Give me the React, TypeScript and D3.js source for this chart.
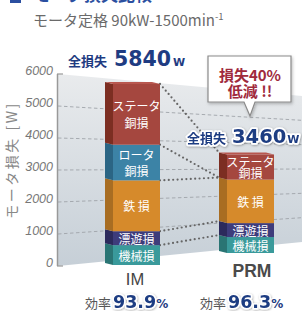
import React from 'react';
import * as d3 from 'd3';

// ---- data ----
const categories = ['IM', 'PRM'];
const lossNames = ['機械損', '漂遊損', '鉄 損', 'ロータ\n銅損', 'ステータ\n銅損'];
const imLoss = [640, 450, 1640, 1150, 1960];
const prmLoss = [560, 490, 1530, 0, 880];
const totalLoss = [5840, 3460];
const efficiency = ['93.9', '96.3'];
const yTicks = [0, 1000, 2000, 3000, 4000, 5000, 6000];
const gridTicks = [1000, 2000, 3000, 4000, 5000];
const calloutLines = ['損失40%', '低減 !!'];

const JP = '"Noto Sans CJK JP", sans-serif';
const NUM = '"DejaVu Sans", sans-serif';
const LAT = '"Liberation Sans", Arial, sans-serif';
const NAVY = '#1f3c82';

const frontColors = ['#3a9a9b', '#3e3c7b', '#d68a2b', '#3c83a6', '#a5473f'];
const sideColors = ['#2a7574', '#2c2a5c', '#a86d22', '#2b6584', '#7c2e22'];

// near edge (axis) and far edge of the back panel
const yAxis = d3.scaleLinear().domain([0, 6000]).range([266, 74]);
const yFar = d3.scaleLinear().domain([0, 6000]).range([242, 96]);
const xNear = 58;
const xFar = 302;

// each bar stands at its own depth
const barLeft = d3.scaleOrdinal<string, number>().domain(categories).range([113, 227]);
const barScales = [
    d3.scaleLinear().domain([0, 6000]).range([265, 79]),
    d3.scaleLinear().domain([0, 6000]).range([253, 82.2]),
];
const BW = 47;
const DX = 8;
const DY = 2;

const table = categories.map((c, i) => {
    const vals = i === 0 ? imLoss : prmLoss;
    const row: any = { cat: c };
    lossNames.forEach((n, j) => (row[n] = vals[j]));
    return row;
});
const stacked = d3.stack().keys(lossNames)(table);

export default function App() {
    const segs: any[] = [];
    const labels: any[] = [];
    categories.forEach((c, i) => {
        const ys = barScales[i];
        const x0 = barLeft(c);
        stacked.forEach((s, j) => {
            const [v0, v1] = s[i];
            if (v1 - v0 <= 0) return;
            const yt = ys(v1);
            const yb = ys(v0);
            segs.push(
                <g key={c + j}>
                    <polygon
                        points={`${x0},${yt} ${x0},${yb} ${x0 - DX},${yb - DY} ${x0 - DX},${yt - DY}`}
                        fill={sideColors[j]}
                    />
                    <rect x={x0} y={yt} width={BW} height={yb - yt} fill={frontColors[j]} />
                </g>
            );
            const lines = lossNames[j].split('\n');
            const cy = (yt + yb) / 2;
            const ls = Math.min(17, (yb - yt) * 0.45);
            lines.forEach((ln, k) => {
                labels.push(
                    <text
                        key={c + j + '-' + k}
                        x={x0 + BW / 2}
                        y={cy + (k - (lines.length - 1) / 2) * ls}
                        textAnchor="middle"
                        dominantBaseline="central"
                        fontFamily={JP}
                        fontSize={12}
                        fill="#fff"
                    >
                        {ln}
                    </text>
                );
            });
        });
        const top = ys(totalLoss[i]);
        segs.push(
            <polygon
                key={c + 'top'}
                points={`${x0},${top} ${x0 + BW},${top} ${x0 + BW - DX},${top - DY} ${x0 - DX},${top - DY}`}
                fill="#b8574f"
            />
        );
    });

    // dotted connectors between matching boundaries
    const connectors = stacked.map((s, j) => {
        const a = s[0][1];
        const b = s[1][1];
        const x1 = barLeft(categories[0]) + BW;
        const x2 = barLeft(categories[1]) - DX;
        return (
            <line
                key={'c' + j}
                x1={x1}
                y1={barScales[0](a)}
                x2={x2}
                y2={barScales[1](b) - DY}
                stroke="#666"
                strokeWidth={2.2}
                strokeDasharray="0 4.4"
                strokeLinecap="round"
            />
        );
    });

    return (
        <svg width={302} height={311} style={{ position: 'absolute', left: 0, top: 0 }}>
            <defs>
                <linearGradient id="panel" gradientUnits="userSpaceOnUse" x1="0" y1="74" x2="0" y2="266">
                    <stop offset="0" stopColor="#e9ebed" />
                    <stop offset="1" stopColor="#c6cfd7" />
                </linearGradient>
                <filter id="sh" x="-20%" y="-20%" width="140%" height="140%">
                    <feDropShadow dx="0.6" dy="0.8" stdDeviation="0.8" floodColor="#000" floodOpacity="0.35" />
                </filter>
                <filter id="boxsh" x="-20%" y="-20%" width="140%" height="150%">
                    <feDropShadow dx="1" dy="1.5" stdDeviation="1.5" floodColor="#000" floodOpacity="0.25" />
                </filter>
            </defs>

            {/* cut-off title */}
            <rect x={10} y={-8} width={11} height={11} fill="#2b4fa0" />
            <text x={33} y={1} fontFamily={JP} fontSize={17} fontWeight="bold" fill="#2b4fa0">
                モータ損失比較
            </text>
            <text x={33} y={26} fontFamily={JP} fontSize={15} fill="#6a6a6a">
                モータ定格 90kW-1500min
                <tspan fontSize={9.5} dy={-6}>-1</tspan>
            </text>

            {/* back panel */}
            <polygon
                points={`${xNear},${yAxis(6000)} ${xFar},${yFar(6000)} ${xFar},${yFar(0)} ${xNear},${yAxis(0)}`}
                fill="url(#panel)"
            />
            {gridTicks.map((t) => (
                <line
                    key={t}
                    x1={xNear}
                    y1={yAxis(t)}
                    x2={xFar}
                    y2={yFar(t)}
                    stroke="#9fa4a9"
                    strokeWidth={0.9}
                    strokeDasharray="3.5 2.5"
                />
            ))}

            {/* axis */}
            <line x1={57.5} y1={yAxis(6000)} x2={57.5} y2={yAxis(0)} stroke="#999" strokeWidth={1.5} />
            <line x1={57} y1={yAxis(6000)} x2={63} y2={yAxis(6000)} stroke="#999" strokeWidth={1.2} />
            <line x1={57} y1={yAxis(0)} x2={63} y2={yAxis(0)} stroke="#999" strokeWidth={1.2} />
            {yTicks.map((t) => (
                <text
                    key={t}
                    x={53}
                    y={yAxis(t) + 1}
                    textAnchor="end"
                    fontFamily={LAT}
                    fontStyle="italic"
                    fontSize={12.5}
                    fill="#777"
                >
                    {t}
                </text>
            ))}
            <text
                transform="translate(17,160) rotate(-90)"
                textAnchor="middle"
                fontFamily={JP}
                fontSize={14}
                letterSpacing={2.5}
                fill="#888"
            >
                モータ損失 [W]
            </text>

            {connectors}
            {segs}
            {labels}

            {/* totals */}
            <text x={68} y={66} fontFamily={JP} fontSize={13} fontWeight="bold" fill={NAVY}>
                全損失
                <tspan dx={7} fontFamily={NUM} fontSize={20.5}>{totalLoss[0]}</tspan>
                <tspan dx={2} fontFamily={NUM} fontSize={11}>W</tspan>
            </text>
            <text
                x={187}
                y={143}
                fontFamily={JP}
                fontSize={13}
                fontWeight="bold"
                fill={NAVY}
                stroke="#fff"
                strokeWidth={3.5}
                strokeLinejoin="round"
                paintOrder="stroke"
                filter="url(#sh)"
            >
                全損失
                <tspan dx={6} fontFamily={NUM} fontSize={19.5}>{totalLoss[1]}</tspan>
                <tspan dx={1} fontFamily={NUM} fontSize={11}>W</tspan>
            </text>

            {/* callout */}
            <path
                d="M208,56 H291 V102 H255 L250,116 L244,102 H208 Z"
                fill="#fff"
                stroke="#8a8a8a"
                strokeWidth={1.2}
                filter="url(#boxsh)"
            />
            {calloutLines.map((ln, k) => (
                <text
                    key={k}
                    x={250}
                    y={81 + k * 16}
                    textAnchor="middle"
                    fontFamily={JP}
                    fontSize={15}
                    fontWeight="bold"
                    fill="#a02a3c"
                >
                    {ln}
                </text>
            ))}

            {/* category labels */}
            <text x={135} y={285} textAnchor="middle" fontFamily={LAT} fontSize={16.5} fill="#444">
                {categories[0]}
            </text>
            <text x={252} y={277} textAnchor="middle" fontFamily={LAT} fontSize={17.5} fontWeight="bold" fill="#4a4a4a">
                {categories[1]}
            </text>

            {/* efficiency */}
            {[85, 200].map((x, i) => (
                <text key={i} x={x} y={308} fontFamily={JP} fontSize={13} fill="#555">
                    効率
                    <tspan
                        dx={2}
                        fontFamily={NUM}
                        fontSize={17.5}
                        fontWeight="bold"
                        fill={NAVY}
                        stroke="#fff"
                        strokeWidth={3}
                        strokeLinejoin="round"
                        paintOrder="stroke"
                        filter="url(#sh)"
                    >
                        {efficiency[i]}
                    </tspan>
                    <tspan
                        fontFamily={NUM}
                        fontSize={12}
                        fontWeight="bold"
                        fill={NAVY}
                        stroke="#fff"
                        strokeWidth={2.5}
                        paintOrder="stroke"
                    >
                        %
                    </tspan>
                </text>
            ))}
        </svg>
    );
}
